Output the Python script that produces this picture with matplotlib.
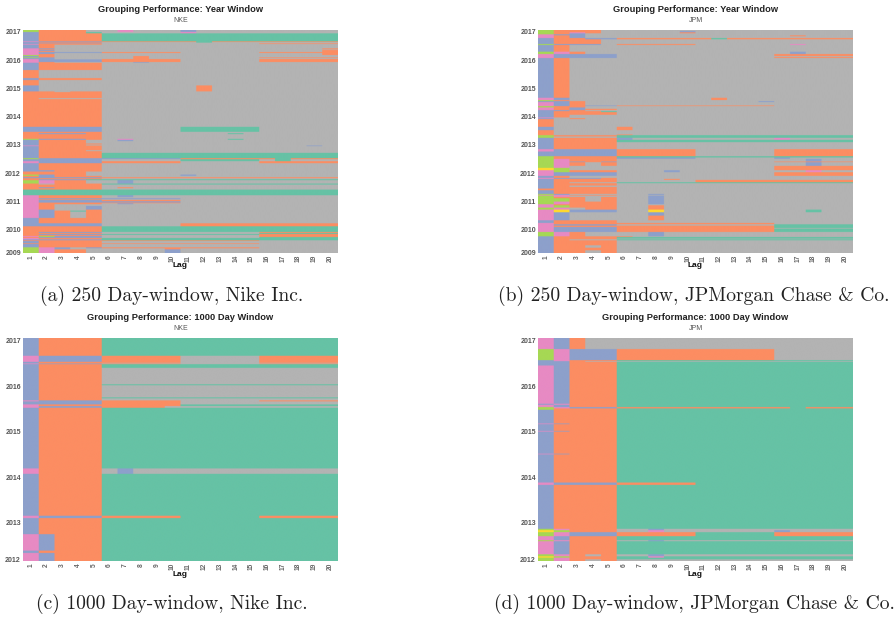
"""
Grouping performance heatmaps for NKE and JPM, 250 and 1000 day windows
"""

import re
import numpy as np
import matplotlib
matplotlib.use('Agg')
import matplotlib.pyplot as plt
from matplotlib.colors import ListedColormap

W, H = 895, 620

# Group letters, in the order of the Set2 palette
GROUPS = "gobplys"
COLORS = ['#66c2a5', '#fc8d62', '#8da0cb', '#e78ac3', '#a6d854', '#ffd92f', '#b3b3b3']

LAGS = list(range(1, 21))

# Each band: first row of the band, then the group per lag as letter+count
NKE_250 = [
    (0, "l o3 s2 p s3 b s9"), (6, "b o3 g s5 p s9"), (10, "b o4 g15"),
    (34, "p b4 o6 g o8"), (36, "b o4 s6 g s8"), (38, "b b4 s15"), (40, "b o4 s10 o5"),
    (42, "p o4 s15"), (44, "b o s18"), (55, "p b s17 o"), (58, "p o s18"),
    (60, "p b s17 o"), (63, "p o s17 o"), (66, "p b4 o5 s5 o5"), (69, "p b s17 o"),
    (72, "p o s17 o"), (75, "l o s18"), (78, "b o s5 o s12"), (82, "l b s5 o s7 o5"),
    (84, "b b s5 o s12"), (87, "p b s3 o5 s5 o5"), (88, "p b4 o5 s5 o5"),
    (96, "p o s3 s2 b s12"), (98, "b o4 s15"), (120, "o s19"), (144, "b o4 s15"),
    (150, "o s19"), (166, "b s10 o s8"), (184, "o o s o2 s15"), (186, "o5 s15"),
    (204, "o s4 s15"), (207, "o5 s15"), (290, "b5 s5 g5 s5"), (305, "o5 s15"),
    (309, "o b3 o s8 g s6"), (312, "o5 s15"), (326, "l b3 o s p s6 g s6"),
    (329, "b o3 s2 b s13"), (333, "b o3 s16"), (340, "b o3 o s15"), (343, "b o3 s16"),
    (346, "p o3 o s13 b s"), (348, "b o4 s15"), (360, "b o3 s16"), (363, "b o4 s15"),
    (368, "b o4 g15"), (384, "l b4 b5 o5 o g o3"), (387, "b b4 s5 g5 s g s3"),
    (393, "p b4 o5 s5 o5"), (399, "b o4 s15"), (420, "b b o3 s15"), (424, "o o3 s s15"),
    (433, "l b o2 s s5 b s9"), (437, "o b o3 s15"), (441, "b b4 o15"), (444, "o o4 s15"),
    (447, "o b3 g g15"), (450, "l p o2 s s b s13"), (460, "o s o3 g15"), (463, "o o4 s15"),
    (471, "o b o3 s o s13"), (474, "o o4 s15"), (478, "g20"), (495, "p o4 s b s13"),
    (501, "p o4 s15"), (504, "p b4 b5 s10"), (507, "p o4 s15"), (509, "p b4 o5 s10"),
    (513, "p b4 b5 s10"), (517, "p o4 o5 s10"), (519, "p o4 s b s13"), (522, "p o s3 s15"),
    (527, "p o s2 b s15"), (538, "p b s2 o s15"), (541, "p b o g o s15"), (544, "p b o s o s15"),
    (563, "b o4 s15"), (579, "b b4 s5 o10"), (588, "o5 g15"), (605, "o b4 s10 o5"),
    (608, "o o4 s10 g5"), (611, "o b4 g10 o5"), (614, "o o4 s10 o5"), (617, "p l b3 s10 o5"),
    (620, "o b4 s10 g5"), (623, "p o4 g15"), (627, "b b4 g15"), (630, "o o4 o10 s5"),
    (632, "b o4 s15"), (639, "o o4 o10 s5"), (641, "b o4 s15"), (651, "l p b s b o10 s5"),
    (654, "l p b s2 s4 o s10"), (657, "l p o2 s s4 b s10"),
]

JPM_250 = [
    (0, "l o3 s16"), (3, "l o3 s5 b s10"), (7, "l o p o s5 o s10"), (10, "l o b s s15"),
    (13, "p b b s16"), (16, "p o b s13 o s3"), (19, "p o b s17"), (24, "b o2 b2 o6 g o8"),
    (28, "b o3 s16"), (42, "l b3 s o5 s6 p s3"), (45, "b o s18"), (65, "l p o s13 b s3"),
    (72, "p b4 s10 o5"), (78, "p b4 s15"), (81, "p b4 s10 o5"), (84, "b o s18"),
    (203, "p b s9 o s8"), (210, "l o s18"), (213, "b b o s11 b s5"), (216, "p b o s17"),
    (226, "p b o b2 o10 s5"), (228, "l o2 s17"), (232, "p o b s17"), (236, "p o b o2 s15"),
    (240, "b b o s17"), (243, "b o o2 g s15"), (246, "b o4 s15"), (254, "b o s18"),
    (262, "p s19"), (264, "b s o s17"), (267, "o s19"), (290, "b s4 o s14"), (300, "o s19"),
    (313, "o s4 o s14"), (315, "l o4 g15"), (319, "l s4 g15"), (323, "b o4 b s9 p s4"),
    (329, "b o4 g15"), (336, "b o4 s15"), (357, "p b4 o5 s5 o5"), (364, "b b4 o5 s5 o5"),
    (378, "l o4 g15"), (382, "l o4 b5 s5 b s4"), (386, "l p o3 s12 b s2"), (394, "l p b o b s10 o5"),
    (396, "l p o s o s12 b s2"), (407, "l p s3 s10 o5"), (413, "y l s3 s10 o5"),
    (420, "p l o3 s3 b s6 s2 p s2"), (426, "p b4 s10 o5"), (437, "b o s18"), (443, "p b3 o s15"),
    (446, "b o o3 s3 o s11"), (449, "b o4 s5 o10"), (456, "b o s3 g15"), (459, "b o4 s15"),
    (466, "b o s3 s15"), (470, "b o4 s15"), (475, "o o4 s15"), (480, "b o4 s15"),
    (491, "l b s3 s2 b s12"), (494, "p p o3 s15"), (496, "l p s3 s2 b s12"),
    (500, "l o o s o s2 b s12"), (504, "l l o s o s2 b s12"), (514, "l p o3 s2 b s12"),
    (522, "p o o3 s15"), (525, "p l o3 s2 o s12"), (532, "l p s o2 s2 o s12"),
    (538, "p y b3 s2 y s9 g s2"), (546, "p b s3 s2 b s12"), (556, "p b s3 s2 o s12"),
    (570, "b o4 s15"), (578, "p o4 o10 s5"), (582, "p b4 s10 g5"), (586, "p o4 o10 g5"),
    (590, "p b4 o10 g5"), (593, "p b4 o10 s5"), (595, "p b4 o10 g5"), (605, "l p o s4 b s12"),
    (618, "b o4 o s14"), (620, "b o4 g15"), (625, "b o4 s15"), (627, "b o s3 g15"),
    (630, "b o4 s15"), (645, "b o2 s o s15"), (652, "b o4 s15"), (660, "b o2 s o s15"),
]

NKE_1000 = [
    (0, "b o4 g15"), (56, "p b4 o5 s5 o5"), (74, "b o4 o5 s5 o5"), (77, "b o4 s15"),
    (79, "p b4 o5 s5 o5"), (81, "b o4 g15"), (92, "b o4 s15"), (141, "b o4 g15"),
    (144, "b o4 s15"), (180, "b o4 g15"), (183, "b o4 s15"), (189, "p b4 o5 s5 o5"),
    (192, "b b4 o5 s10"), (201, "p o4 o5 g10"), (206, "p b4 o4 s11"), (211, "b o4 g15"),
    (392, "p o4 s b s13"), (408, "b o4 g15"), (533, "p b4 o5 g5 o5"), (540, "b o4 g15"),
    (588, "p b o3 g15"), (637, "b o o3 g15"), (644, "p b o3 g15"),
]

JPM_1000 = [
    (0, "p b o s17"), (36, "l p b3 o10 s5"), (69, "b p o3 g15"), (72, "b b o s17"),
    (74, "b b o3 g15"), (85, "p b o3 g15"), (199, "b p o3 g15"), (202, "p b o3 g15"),
    (209, "l p b3 o11 g o3"), (213, "l o o3 g15"), (217, "b o4 g15"), (258, "p b o3 g15"),
    (260, "b o4 g15"), (280, "p b o3 g15"), (282, "b o4 g15"), (348, "p b o3 g15"),
    (350, "b o4 g15"), (434, "p b4 o5 g10"), (441, "b o4 g15"), (572, "l p o3 s2 b s12"),
    (576, "y l o3 s2 p s7 b s4"), (582, "l p b3 o5 g5 o5"), (594, "p b o3 g15"),
    (606, "l p o3 s2 b s12"), (609, "p b o3 g15"), (648, "l p o s o s2 b s12"),
    (654, "y l o3 g2 p g12"), (658, "l p o3 g15"), (663, "l p o s o s15"),
]

# Rows where each year starts, and total rows per panel
YEARS_250 = [2017, 2016, 2015, 2014, 2013, 2012, 2011, 2010, 2009]
YEAR_ROWS_250 = [4, 91, 175, 260, 343, 430, 514, 598, 667]
N_ROWS_250 = 668

YEARS_1000 = [2017, 2016, 2015, 2014, 2013, 2012]
YEAR_ROWS_1000 = [7, 146, 281, 419, 553, 664]
N_ROWS_1000 = 668


def expand(pattern):
    # "o4 s15" -> group index for each of the 20 lags, grey past the end
    cells = []
    for letter, count in re.findall(r'([a-z])(\d*)', pattern):
        cells += [GROUPS.index(letter)] * int(count or 1)
    cells += [GROUPS.index('s')] * len(LAGS)
    return cells[:len(LAGS)]


def to_matrix(bands, n_rows):
    starts = [b[0] for b in bands] + [n_rows]
    rows = [expand(b[1]) for b in bands]
    matrix = np.repeat(np.array(rows), np.diff(starts), axis=0)
    # widen the cells so the resampling only softens the thin rows
    return np.repeat(matrix, 48, axis=1)


def draw_panel(left, top, bands, n_rows, years, year_rows, title, ticker, caption):
    right, bottom = left + 315, top + 223
    ax = fig.add_axes([left / W, 1 - bottom / H, 315 / W, 223 / H])
    ax.imshow(to_matrix(bands, n_rows), aspect='auto', cmap=ListedColormap(COLORS),
              vmin=0, vmax=len(COLORS) - 1, interpolation='hanning',
              interpolation_stage='rgba', extent=(0.5, 20.5, n_rows, 0))

    ax.set_xticks(LAGS)
    ax.set_xticklabels(LAGS, rotation=90, fontsize=4.8, fontweight='bold', color='#666666')
    ax.set_yticks(year_rows)
    ax.set_yticklabels(years, fontsize=5, fontweight='bold', color='#555555')
    ax.tick_params(length=0, pad=1.5)
    for spine in ax.spines.values():
        spine.set_visible(False)

    cx = (left + right) / 2
    fig.text(cx / W, 1 - (top - 20) / H, title, ha='center', va='center',
             fontsize=6.65, fontweight='bold', color='#222222')
    fig.text(cx / W, 1 - (top - 10) / H, ticker, ha='center', va='center',
             fontsize=5, color='#555555')
    fig.text(cx / W, 1 - (bottom + 13) / H, 'Lag', ha='center', va='center',
             fontsize=6, fontweight='bold', color='#111111')
    cap_x = left + 149 if left < 400 else left + 156
    fig.text(cap_x / W, 1 - (bottom + 43) / H, caption, ha='center', va='center',
             fontsize=14.1, family='cmr10', color='#222222')


plt.rcParams['font.family'] = ['Liberation Sans', 'DejaVu Sans']
plt.rcParams['axes.formatter.use_mathtext'] = True

fig = plt.figure(figsize=(W / 100, H / 100), dpi=100)

draw_panel(23, 30, NKE_250, N_ROWS_250, YEARS_250, YEAR_ROWS_250,
           'Grouping Performance: Year Window', 'NKE', '(a) 250 Day-window, Nike Inc.')
draw_panel(538, 30, JPM_250, N_ROWS_250, YEARS_250, YEAR_ROWS_250,
           'Grouping Performance: Year Window', 'JPM', '(b) 250 Day-window, JPMorgan Chase & Co.')
draw_panel(23, 338, NKE_1000, N_ROWS_1000, YEARS_1000, YEAR_ROWS_1000,
           'Grouping Performance: 1000 Day Window', 'NKE', '(c) 1000 Day-window, Nike Inc.')
draw_panel(538, 338, JPM_1000, N_ROWS_1000, YEARS_1000, YEAR_ROWS_1000,
           'Grouping Performance: 1000 Day Window', 'JPM', '(d) 1000 Day-window, JPMorgan Chase & Co.')

fig.savefig('out.png', dpi=100)
plt.close(fig)
